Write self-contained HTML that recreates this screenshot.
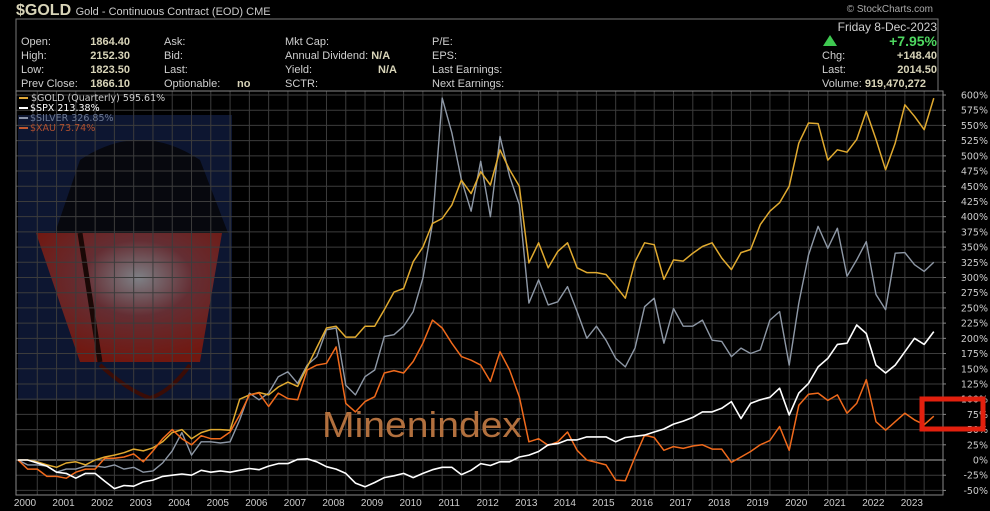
<!DOCTYPE html>
<html><head><meta charset="utf-8"><style>
body{margin:0;background:#000;width:990px;height:511px;overflow:hidden;font-family:"Liberation Sans",sans-serif}
svg{display:block}
</style></head><body>
<svg id="c" width="990" height="511" xmlns="http://www.w3.org/2000/svg">
<defs>
<radialGradient id="glow" cx="0.55" cy="0.35" r="0.65"><stop offset="0" stop-color="#9a9a9a"/><stop offset="0.45" stop-color="#7a3434"/><stop offset="1" stop-color="#8a1808"/></radialGradient>
</defs>
<g>
<rect x="18" y="115" width="214" height="285" fill="#0d1631"/>
<path d="M55,233 L80,160 Q140,120 200,160 L228,233 Z" fill="#07080e"/>
<path d="M36,233 L222,233 L200,362 L80,362 Z" fill="url(#glow)" opacity="0.8"/>
<path d="M80,233 L100,362" stroke="#1a0806" stroke-width="5"/>
<path d="M100,365 Q130,392 150,398 Q170,392 190,365" fill="none" stroke="#3a0c06" stroke-width="4"/>
</g>
<g id="grid"></g>
<rect x="16" y="19" width="922" height="72" fill="none" stroke="#777" stroke-width="1"/>
<rect x="16" y="91" width="927" height="404" fill="none" stroke="#888" stroke-width="1"/>
<g id="series"></g>
<g id="axes"></g>
<text x="322" y="437" font-size="36" fill="#b2703e" textLength="200" lengthAdjust="spacingAndGlyphs">Minenindex</text>
<rect x="922" y="399" width="61" height="30" fill="none" stroke="#e2200e" stroke-width="5"/>
<g font-size="11" fill="#cfcfcf">
<text x="16" y="15" font-size="16" font-weight="bold" fill="#d8d4b8">$GOLD <tspan font-size="11" font-weight="normal" fill="#ccc">Gold - Continuous Contract (EOD) CME</tspan></text>
<text x="933" y="12" font-size="10" fill="#aaa" text-anchor="end">© StockCharts.com</text>
<text x="21" y="45">Open:</text><text x="21" y="59">High:</text><text x="21" y="73">Low:</text><text x="21" y="87">Prev Close:</text>
<g font-weight="bold" fill="#d8d4b8" text-anchor="end"><text x="130" y="45">1864.40</text><text x="130" y="59">2152.30</text><text x="130" y="73">1823.50</text><text x="130" y="87">1866.10</text></g>
<text x="164" y="45">Ask:</text><text x="164" y="59">Bid:</text><text x="164" y="73">Last:</text><text x="164" y="87">Optionable:</text><text x="237" y="87" font-weight="bold" fill="#d8d4b8">no</text>
<text x="285" y="45">Mkt Cap:</text><text x="285" y="59">Annual Dividend: <tspan font-weight="bold" fill="#d8d4b8">N/A</tspan></text><text x="285" y="73">Yield:</text><text x="378" y="73" font-weight="bold" fill="#d8d4b8">N/A</text><text x="285" y="87">SCTR:</text>
<text x="432" y="45">P/E:</text><text x="432" y="59">EPS:</text><text x="432" y="73">Last Earnings:</text><text x="432" y="87">Next Earnings:</text>
<text x="937" y="31" text-anchor="end" font-size="12">Friday  8-Dec-2023</text>
<polygon points="823,46 830,35 837,46" fill="#3ec850"/>
<text x="937" y="46" text-anchor="end" font-size="14" font-weight="bold" fill="#4ed860">+7.95%</text>
<text x="822" y="59">Chg:</text><text x="937" y="59" text-anchor="end" font-weight="bold" fill="#d8d4b8">+148.40</text>
<text x="822" y="73">Last:</text><text x="937" y="73" text-anchor="end" font-weight="bold" fill="#d8d4b8">2014.50</text>
<text x="822" y="87">Volume: <tspan font-weight="bold" fill="#d8d4b8">919,470,272</tspan></text>
</g>
<g font-family="DejaVu Sans, sans-serif" font-size="9.5">
<rect x="19" y="97" width="9" height="2" fill="#e0a838"/><text x="31" y="101" fill="#ccc">$GOLD (Quarterly) 595.61%</text>
<rect x="19" y="107" width="9" height="2" fill="#fff"/><text x="30" y="111" fill="#fff">$SPX 213.38%</text>
<rect x="19" y="117" width="9" height="2" fill="#8a93a8"/><text x="30" y="121" fill="#6e7a94">$SILVER 326.85%</text>
<rect x="19" y="127" width="9" height="2" fill="#c05830"/><text x="30" y="131" fill="#b05030">$XAU 73.74%</text>
</g>
</svg>
<script>
const quarters = 96;
const yearLabels = ["2000","2001","2002","2003","2004","2005","2006","2007","2008","2009","2010","2011","2012","2013","2014","2015","2016","2017","2018","2019","2020","2021","2022","2023"];
const yTicks = [-50,-25,0,25,50,75,100,125,150,175,200,225,250,275,300,325,350,375,400,425,450,475,500,525,550,575,600];
const goldValues = [0,0,-3,-8,-12,-5,-3,-8,0,5,8,12,18,15,20,30,45,50,35,45,50,50,
49,100,107,111,107,120,128,121,153,185,217,220,202,202,220,220,247,276,282,326,350,389,397,419,460,438,474,452,510,477,450,324,357,316,343,
357,316,308,308,305,286,266,326,357,354,297,329,327,340,351,357,332,313,341,346,387,409,423,450,521,554,553,493,510,506,527,573,527,477,521,584,565,543,595];
const silverValues = [0,-8,-8,-10,-20,-15,-15,-10,-10,-12,-8,-15,-12,-20,-18,-5,15,45,8,30,30,28,
30,66,110,99,110,137,145,126,156,170,214,217,123,107,137,148,203,206,220,244,299,389,595,538,461,409,491,400,532,466,420,258,296,255,260,
285,244,200,220,197,167,153,184,252,266,192,249,220,220,230,197,195,170,184,175,181,230,244,156,258,337,384,348,381,302,329,359,272,247,340,341,321,310,325];
const xauValues = [0,-15,-15,-27,-27,-30,-20,-15,-15,3,3,5,10,-3,15,35,50,35,25,40,35,35,
46,74,107,110,88,110,101,99,148,156,159,186,93,79,96,104,143,147,143,162,192,230,217,192,170,164,156,129,178,148,104,30,35,24,30,
46,16,0,-4,-8,-33,-34,5,41,37,16,22,19,23,25,18,18,-4,5,14,25,32,55,16,90,108,110,98,107,77,93,132,63,49,63,77,66,58,72];
const spxValues = [0,0,-5,-10,-20,-22,-30,-22,-22,-35,-47,-42,-43,-36,-33,-27,-25,-23,-25,-17,-20,-18,
-20,-17,-14,-16,-10,-6,-6,1,2,-3,-11,-15,-22,-38,-44,-37,-29,-26,-22,-29,-22,-16,-12,-12,-24,-17,-6,-9,-3,-3,5,8,14,25,27,
33,33,38,38,38,30,37,39,41,46,51,59,64,70,79,79,85,96,68,93,99,103,118,74,110,126,153,167,190,192,222,208,156,143,156,178,200,190,211];
const NS='http://www.w3.org/2000/svg';
const x0=18, qStep=9.64, L=16, R=943, T=91, B=495;
function xq(i){return x0+i*qStep;}
function yv(v){return 460-v*0.6083;}
function mk(tag,attrs,parent){const e=document.createElementNS(NS,tag);for(const k in attrs)e.setAttribute(k,attrs[k]);parent.appendChild(e);return e;}
const grid=document.getElementById('grid'), axes=document.getElementById('axes'), series=document.getElementById('series');
yTicks.forEach(t=>{
  const y=yv(t);
  const ln=mk('line',{x1:L,x2:R,y1:y,y2:y,stroke:t===0?'#aaa':'#3c3c3c','stroke-width':1},grid);
  
  
  const tk=mk('line',{x1:R,x2:R+3,y1:y,y2:y,stroke:'#888'},axes);
  
  
  const tx=mk('text',{x:988,y:y+3.5,'text-anchor':'end','font-size':'9.5',fill:'#ccc','font-family':'DejaVu Sans, sans-serif'},axes);
  tx.textContent=t+'%';
  
  
});
for(let h=1;h<48;h++){
  const x=xq(h*2);
  const ln=mk('line',{x1:x,x2:x,y1:T,y2:B,stroke:'#3c3c3c','stroke-width':1},grid);
  
  
}
yearLabels.forEach((lab,k)=>{
  const x=xq(k*4)+7;
  const tx=mk('text',{x:x,y:506,'text-anchor':'middle','font-size':'10',fill:'#ccc'},axes);
  tx.textContent=lab;
  
  
});
function line(vals,color,name,w){
  const d=vals.map((v,i)=>(i?'L':'M')+xq(i).toFixed(1)+','+yv(v).toFixed(1)).join(' ');
  const p=mk('path',{d:d,fill:'none',stroke:color,'stroke-width':w,'stroke-linejoin':'round'},series);
  
  
}
line(silverValues,'#8e98a6','silver-line',1.4);
line(goldValues,'#e0aa30','gold-line',1.5);
line(xauValues,'#f06a1c','xau-line',1.5);
line(spxValues,'#ffffff','spx-line',1.6);
</script>
</body></html>
